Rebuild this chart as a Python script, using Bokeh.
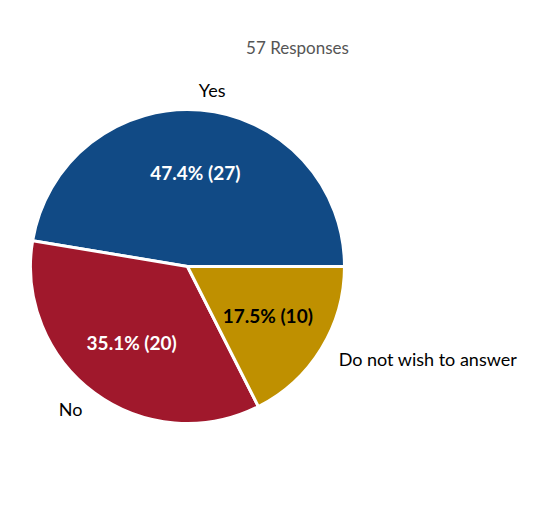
import numpy as np
from bokeh.plotting import figure
from bokeh.embed import file_html
from bokeh.resources import INLINE
from bokeh.core.properties import value

categories = ["Yes", "No", "Do not wish to answer"]
counts = [27, 20, 10]
colors = ["#114a85", "#a0182c", "#bf9000"]
inner_text_colors = ["white", "white", "black"]

W, H = 529, 516
cx, cy, R = 187, 250, 157

p = figure(width=W, height=H, x_range=(0, W), y_range=(0, H),
           output_backend="svg", toolbar_location=None, min_border=0)
p.axis.visible = False
p.grid.visible = False
p.outline_line_color = None

total = sum(counts)
fracs = np.array(counts) / total
ends = np.cumsum(fracs) * 2 * np.pi
starts = ends - fracs * 2 * np.pi
mids = (starts + ends) / 2

p.wedge(x=cx, y=cy, radius=R, start_angle=starts, end_angle=ends,
        fill_color=colors, line_color="white", line_width=3)

font = value("Lato")
inner = [f"{f*100:.1f}% ({c})" for f, c in zip(fracs, counts)]
p.text(x=cx + 0.6 * R * np.cos(mids), y=cy + 0.6 * R * np.sin(mids), text=inner,
       text_color=inner_text_colors, text_font=font, text_font_style="bold",
       text_font_size="19px", text_align="center", text_baseline="middle")

lx = cx + 1.13 * R * np.cos(mids)
ly = cy + 1.13 * R * np.sin(mids)
aligns = ["left" if np.cos(m) > 0.3 else "right" if np.cos(m) < -0.3 else "center" for m in mids]
for x, y, t, a in zip(lx, ly, categories, aligns):
    p.text(x=[x + (10 if a == "center" else 0)], y=[y], text=[t], text_color="black",
           text_font=font, text_font_size="18px", text_align=a, text_baseline="middle")

p.text(x=[297], y=[H - 47], text=[f"{total} Responses"], text_color="#555555",
       text_font=font, text_font_size="17px", text_align="center", text_baseline="middle")

open("out.html", "w").write(file_html(p, INLINE))
